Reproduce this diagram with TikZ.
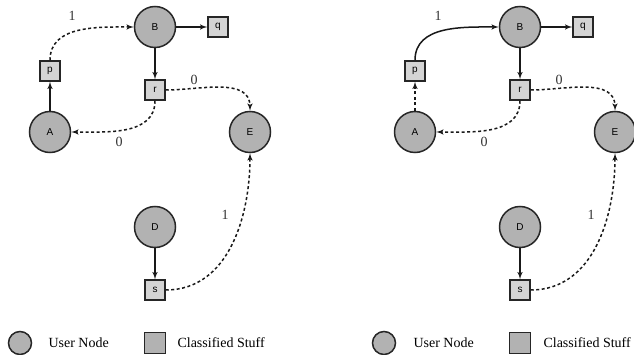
\documentclass[tikz,border=0pt]{standalone}
\usepackage{fontspec}
\setmainfont{Liberation Serif}
\setsansfont{Liberation Sans}
\usetikzlibrary{arrows}
\usetikzlibrary{positioning}

\begin{document}
\begin{tikzpicture}[x=1pt,y=-1pt]
		\tikzset{user/.style = {shape=circle,draw=black!85,line width=1.5pt,fill=black!30,minimum size=41pt,inner sep=0pt,font=\sffamily\fontsize{10}{12}\selectfont}}
		\tikzset{stuff/.style = {shape=rectangle,draw=black!85,line width=1.5pt,fill=black!17,minimum size=20pt,inner sep=0pt,font=\sffamily\fontsize{10}{12}\selectfont}}
		\tikzset{edge/.style = {->,> = latex',line width=1.5pt,draw=black!90}}
		\tikzset{hop/.style = {edge,dash pattern=on 3pt off 2.5pt}}
		\tikzset{weight/.style = {font=\fontsize{14}{16}\selectfont,text=black!80}}
		\tikzset{legend/.style = {anchor=west,font=\fontsize{14}{16}\selectfont}}
		\useasboundingbox (0,0) rectangle (634,355);
		% vertices, left
		\node[user] (a) at (50,132) {A};
		\node[user] (b) at (155,27) {B};
		\node[user] (d) at (155,227) {D};
		\node[user] (e) at (250,132) {E};
		\node[stuff] (p) at (50,71) {p};
		\node[stuff] (q) at (218,27) {q};
		\node[stuff] (r) at (155,90) {r};
		\node[stuff] (s) at (155,290) {s};
		
		\node[weight] (w1) at (72,16) {1};
		\node[weight] (w2) at (194,80) {0};
		\node[weight] (w3) at (119,142) {0};
		\node[weight] (w4) at (225,215) {1};
		
		%edges, left
		\draw[edge] (a) to (p);
		\draw[hop] (p) to[out=90,in=180] (b);
		\draw[edge] (b) to (q);
		\draw[edge] (b) to (r);
		\draw[hop] (r) to[out=0,in=90] (e);
		\draw[hop] (r) to[out=-90,in=0] (a);
		\draw[edge] (d) to (s);
		\draw[hop] (s) to[out=0,in=-90] (e);
		
		% vertices, right
		\node[user] (a2) at (415,132) {A};
		\node[user] (b2) at (520,27) {B};
		\node[user] (d2) at (520,227) {D};
		\node[user] (e2) at (615,132) {E};
		\node[stuff] (p2) at (415,71) {p};
		\node[stuff] (q2) at (583,27) {q};
		\node[stuff] (r2) at (520,90) {r};
		\node[stuff] (s2) at (520,290) {s};
		
		\node[weight] (v1) at (438,16) {1};
		\node[weight] (v2) at (559,80) {0};
		\node[weight] (v3) at (484,142) {0};
		\node[weight] (v4) at (591,215) {1};
		
		%edges, right
		\draw[hop] (a2) to (p2);
		\draw[edge] (p2) to[out=90,in=180] (b2);
		\draw[edge] (b2) to (q2);
		\draw[edge] (b2) to (r2);
		\draw[hop] (r2) to[out=0,in=90] (e2);
		\draw[hop] (r2) to[out=-90,in=0] (a2);
		\draw[edge] (d2) to (s2);
		\draw[hop] (s2) to[out=0,in=-90] (e2);
		
		% legends
		\node[user,minimum size=23pt] (ul) at (20,343) {};
		\node[legend] (ut) at (45,343) {User Node};
		\node[stuff,fill=black!30,minimum size=21pt] (cl) at (155,343) {};
		\node[legend] (ct) at (174,343) {Classified Stuff};
		
		\node[user,minimum size=23pt] (ul2) at (384,343) {};
		\node[legend] (ut2) at (410,343) {User Node};
		\node[stuff,fill=black!30,minimum size=21pt] (cl2) at (520,343) {};
		\node[legend] (ct2) at (540,343) {Classified Stuff};
\end{tikzpicture}
\end{document}
